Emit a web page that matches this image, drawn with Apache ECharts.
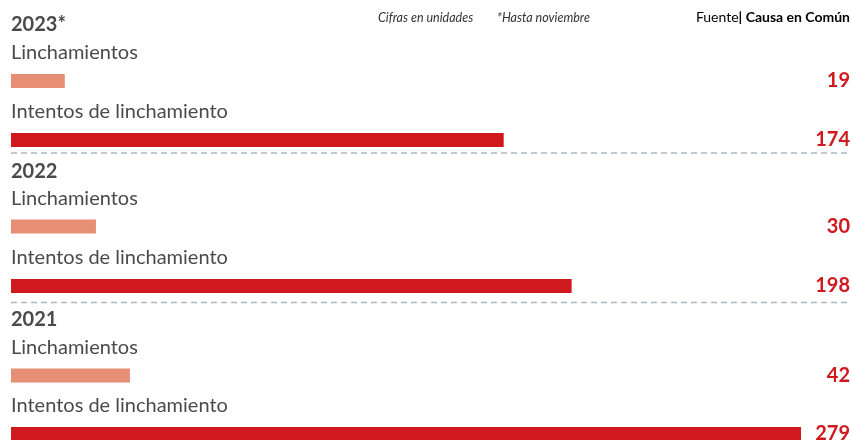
<!DOCTYPE html>
<html>
<head>
<meta charset="utf-8">
<script src="https://cdn.jsdelivr.net/npm/echarts@6/dist/echarts.min.js"></script>
<style>
html,body{margin:0;padding:0;background:#fff;}
#chart{width:851px;height:440px;}
</style>
</head>
<body>
<div id="chart"></div>
<script>
const years = ['2023*', '2022', '2021'];
const categories = ['Linchamientos', 'Intentos de linchamiento'];
const linchamientos = [19, 30, 42];
const intentos = [174, 198, 279];

const FONT = 'Lato';
const gridTops = [81, 226.5, 375.5];
const gridHeights = [59, 59.5, 58.5];
const yearTops = [10, 157, 305];
const maxVal = Math.max.apply(null, intentos.concat(linchamientos));
const colors = ['#E68F74', '#D0191F'];

const grids = [], xAxes = [], yAxes = [], series = [], titles = [];
years.forEach(function (yr, i) {
  grids.push({ left: 11, right: 50, top: gridTops[i], height: gridHeights[i], containLabel: false, outerBoundsMode: 'none' });
  xAxes.push({ type: 'value', gridIndex: i, min: 0, max: maxVal, show: false });
  yAxes.push({ type: 'category', gridIndex: i, inverse: true, boundaryGap: false, data: categories, show: false });
  yAxes.push({
    type: 'category', gridIndex: i, inverse: true, boundaryGap: false, position: 'right',
    data: [String(linchamientos[i]), String(intentos[i])],
    axisLine: { show: false }, axisTick: { show: false }, splitLine: { show: false },
    axisLabel: { align: 'right', margin: 49, color: '#D0191F', fontFamily: FONT, fontWeight: 'bold', fontSize: 20 }
  });
  series.push({
    type: 'bar', xAxisIndex: i, yAxisIndex: i * 2, barWidth: 14,
    data: [linchamientos[i], intentos[i]],
    itemStyle: { color: function (p) { return colors[p.dataIndex]; } },
    label: {
      show: true, formatter: '{b}', position: [0, -21], align: 'left', verticalAlign: 'middle',
      color: '#4a4a4a', fontFamily: FONT, fontSize: 20
    },
    silent: true, animation: false
  });
  titles.push({
    text: yr, left: 6, top: yearTops[i],
    textStyle: { fontFamily: FONT, fontSize: 20, fontWeight: 'bold', color: '#4a4a4a' }
  });
});

const chart = echarts.init(document.getElementById('chart'), null, { renderer: 'canvas' });
chart.setOption({
  animation: false,
  title: titles,
  grid: grids,
  xAxis: xAxes,
  yAxis: yAxes,
  series: series,
  graphic: [
    { type: 'line', shape: { x1: 11, y1: 153, x2: 851, y2: 153 }, style: { stroke: '#AAB8C2', lineWidth: 1.5, lineDash: [6, 4] } },
    { type: 'line', shape: { x1: 11, y1: 302.5, x2: 851, y2: 302.5 }, style: { stroke: '#AAB8C2', lineWidth: 1.5, lineDash: [6, 4] } },
    { type: 'text', left: 378, top: 11, style: { text: 'Cifras en unidades', font: 'italic 12.5px Lato', fill: '#333' } },
    { type: 'text', left: 497, top: 11, style: { text: '*Hasta noviembre', font: 'italic 12.5px Lato', fill: '#333' } },
    { type: 'text', right: 1, top: 10, style: {
        text: '{a|Fuente}{r||}{b| Causa en Común}',
        rich: {
          a: { fontFamily: FONT, fontSize: 14, color: '#333' },
          r: { fontFamily: FONT, fontSize: 14, color: '#D0191F', fontWeight: 'bold' },
          b: { fontFamily: FONT, fontSize: 14, color: '#222', fontWeight: 'bold' }
        }
    } }
  ]
});
</script>
</body>
</html>
